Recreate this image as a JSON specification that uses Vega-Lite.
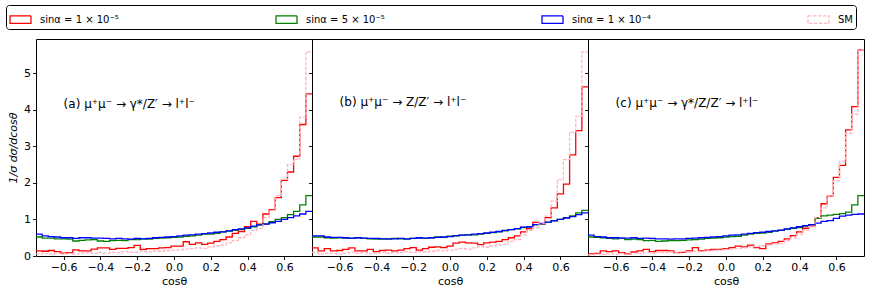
{
  "$schema": "https://vega.github.io/schema/vega-lite/v6.json",
  "autosize": {"type": "pad"},
  "padding": {"left": 5, "top": 4, "right": 0, "bottom": 0},
  "background": "white",
  "datasets": {
    "h": [
      {"p":"a","x":-0.75,"r":0.14,"g":0.52,"b":0.6,"sm":0.06},
      {"p":"a","x":-0.7167,"r":0.13,"g":0.49,"b":0.55,"sm":0.08},
      {"p":"a","x":-0.6833,"r":0.15,"g":0.49,"b":0.53,"sm":0.05},
      {"p":"a","x":-0.65,"r":0.12,"g":0.47,"b":0.52,"sm":0.07},
      {"p":"a","x":-0.6167,"r":0.08,"g":0.47,"b":0.5,"sm":0.06},
      {"p":"a","x":-0.5833,"r":0.09,"g":0.46,"b":0.5,"sm":0.07},
      {"p":"a","x":-0.55,"r":0.17,"g":0.41,"b":0.48,"sm":0.05},
      {"p":"a","x":-0.5167,"r":0.14,"g":0.43,"b":0.5,"sm":0.08},
      {"p":"a","x":-0.4833,"r":0.14,"g":0.44,"b":0.5,"sm":0.09},
      {"p":"a","x":-0.45,"r":0.19,"g":0.45,"b":0.49,"sm":0.07},
      {"p":"a","x":-0.4167,"r":0.22,"g":0.41,"b":0.49,"sm":0.1},
      {"p":"a","x":-0.3833,"r":0.22,"g":0.4,"b":0.48,"sm":0.08},
      {"p":"a","x":-0.35,"r":0.18,"g":0.42,"b":0.47,"sm":0.1},
      {"p":"a","x":-0.3167,"r":0.21,"g":0.43,"b":0.48,"sm":0.09},
      {"p":"a","x":-0.2833,"r":0.21,"g":0.42,"b":0.47,"sm":0.12},
      {"p":"a","x":-0.25,"r":0.23,"g":0.45,"b":0.46,"sm":0.1},
      {"p":"a","x":-0.2167,"r":0.29,"g":0.45,"b":0.48,"sm":0.11},
      {"p":"a","x":-0.1833,"r":0.18,"g":0.47,"b":0.47,"sm":0.13},
      {"p":"a","x":-0.15,"r":0.2,"g":0.46,"b":0.48,"sm":0.12},
      {"p":"a","x":-0.1167,"r":0.2,"g":0.48,"b":0.5,"sm":0.14},
      {"p":"a","x":-0.0833,"r":0.22,"g":0.49,"b":0.51,"sm":0.13},
      {"p":"a","x":-0.05,"r":0.23,"g":0.5,"b":0.52,"sm":0.15},
      {"p":"a","x":-0.0167,"r":0.27,"g":0.51,"b":0.53,"sm":0.16},
      {"p":"a","x":0.0167,"r":0.27,"g":0.52,"b":0.55,"sm":0.17},
      {"p":"a","x":0.05,"r":0.39,"g":0.54,"b":0.57,"sm":0.19},
      {"p":"a","x":0.0833,"r":0.32,"g":0.55,"b":0.58,"sm":0.2},
      {"p":"a","x":0.1167,"r":0.36,"g":0.57,"b":0.6,"sm":0.22},
      {"p":"a","x":0.15,"r":0.32,"g":0.6,"b":0.61,"sm":0.21},
      {"p":"a","x":0.1833,"r":0.35,"g":0.6,"b":0.63,"sm":0.25},
      {"p":"a","x":0.2167,"r":0.4,"g":0.62,"b":0.65,"sm":0.28},
      {"p":"a","x":0.25,"r":0.45,"g":0.66,"b":0.66,"sm":0.3},
      {"p":"a","x":0.2833,"r":0.52,"g":0.68,"b":0.69,"sm":0.36},
      {"p":"a","x":0.3167,"r":0.62,"g":0.7,"b":0.72,"sm":0.42},
      {"p":"a","x":0.35,"r":0.67,"g":0.73,"b":0.74,"sm":0.5},
      {"p":"a","x":0.3833,"r":0.8,"g":0.76,"b":0.77,"sm":0.58},
      {"p":"a","x":0.4167,"r":0.95,"g":0.8,"b":0.82,"sm":0.7},
      {"p":"a","x":0.45,"r":0.87,"g":0.85,"b":0.85,"sm":0.75},
      {"p":"a","x":0.4833,"r":1.15,"g":0.88,"b":0.87,"sm":1.05},
      {"p":"a","x":0.5167,"r":1.27,"g":0.94,"b":0.91,"sm":1.25},
      {"p":"a","x":0.55,"r":1.6,"g":1.0,"b":0.95,"sm":1.65},
      {"p":"a","x":0.5833,"r":2.07,"g":1.05,"b":1.0,"sm":2.1},
      {"p":"a","x":0.6167,"r":2.3,"g":1.13,"b":1.05,"sm":2.5},
      {"p":"a","x":0.65,"r":2.73,"g":1.22,"b":1.1,"sm":2.65},
      {"p":"a","x":0.6833,"r":3.6,"g":1.4,"b":1.15,"sm":3.8},
      {"p":"a","x":0.7167,"r":4.44,"g":1.65,"b":1.22,"sm":5.59},
      {"p":"a","x":0.75,"r":4.44,"g":1.65,"b":1.22,"sm":5.59},

      {"p":"b","x":-0.75,"r":0.22,"g":0.52,"b":0.55,"sm":0.1},
      {"p":"b","x":-0.7167,"r":0.14,"g":0.52,"b":0.55,"sm":0.06},
      {"p":"b","x":-0.6833,"r":0.2,"g":0.5,"b":0.52,"sm":0.08},
      {"p":"b","x":-0.65,"r":0.14,"g":0.49,"b":0.51,"sm":0.07},
      {"p":"b","x":-0.6167,"r":0.15,"g":0.5,"b":0.51,"sm":0.05},
      {"p":"b","x":-0.5833,"r":0.18,"g":0.49,"b":0.5,"sm":0.08},
      {"p":"b","x":-0.55,"r":0.22,"g":0.48,"b":0.49,"sm":0.1},
      {"p":"b","x":-0.5167,"r":0.14,"g":0.5,"b":0.5,"sm":0.07},
      {"p":"b","x":-0.4833,"r":0.14,"g":0.48,"b":0.49,"sm":0.09},
      {"p":"b","x":-0.45,"r":0.18,"g":0.47,"b":0.48,"sm":0.06},
      {"p":"b","x":-0.4167,"r":0.12,"g":0.46,"b":0.48,"sm":0.08},
      {"p":"b","x":-0.3833,"r":0.15,"g":0.47,"b":0.47,"sm":0.1},
      {"p":"b","x":-0.35,"r":0.16,"g":0.46,"b":0.47,"sm":0.07},
      {"p":"b","x":-0.3167,"r":0.14,"g":0.48,"b":0.47,"sm":0.09},
      {"p":"b","x":-0.2833,"r":0.16,"g":0.47,"b":0.48,"sm":0.1},
      {"p":"b","x":-0.25,"r":0.2,"g":0.46,"b":0.47,"sm":0.12},
      {"p":"b","x":-0.2167,"r":0.23,"g":0.48,"b":0.48,"sm":0.1},
      {"p":"b","x":-0.1833,"r":0.16,"g":0.49,"b":0.5,"sm":0.12},
      {"p":"b","x":-0.15,"r":0.2,"g":0.48,"b":0.49,"sm":0.11},
      {"p":"b","x":-0.1167,"r":0.24,"g":0.5,"b":0.5,"sm":0.13},
      {"p":"b","x":-0.0833,"r":0.25,"g":0.52,"b":0.51,"sm":0.15},
      {"p":"b","x":-0.05,"r":0.23,"g":0.51,"b":0.52,"sm":0.14},
      {"p":"b","x":-0.0167,"r":0.27,"g":0.54,"b":0.53,"sm":0.16},
      {"p":"b","x":0.0167,"r":0.35,"g":0.55,"b":0.56,"sm":0.18},
      {"p":"b","x":0.05,"r":0.38,"g":0.57,"b":0.57,"sm":0.2},
      {"p":"b","x":0.0833,"r":0.36,"g":0.58,"b":0.58,"sm":0.19},
      {"p":"b","x":0.1167,"r":0.35,"g":0.58,"b":0.6,"sm":0.22},
      {"p":"b","x":0.15,"r":0.31,"g":0.6,"b":0.61,"sm":0.25},
      {"p":"b","x":0.1833,"r":0.36,"g":0.62,"b":0.63,"sm":0.24},
      {"p":"b","x":0.2167,"r":0.38,"g":0.64,"b":0.65,"sm":0.28},
      {"p":"b","x":0.25,"r":0.4,"g":0.66,"b":0.67,"sm":0.3},
      {"p":"b","x":0.2833,"r":0.45,"g":0.69,"b":0.7,"sm":0.32},
      {"p":"b","x":0.3167,"r":0.5,"g":0.72,"b":0.72,"sm":0.4},
      {"p":"b","x":0.35,"r":0.55,"g":0.74,"b":0.75,"sm":0.45},
      {"p":"b","x":0.3833,"r":0.66,"g":0.78,"b":0.79,"sm":0.58},
      {"p":"b","x":0.4167,"r":0.75,"g":0.8,"b":0.8,"sm":0.7},
      {"p":"b","x":0.45,"r":0.92,"g":0.86,"b":0.86,"sm":0.78},
      {"p":"b","x":0.4833,"r":0.88,"g":0.88,"b":0.89,"sm":0.9},
      {"p":"b","x":0.5167,"r":1.05,"g":0.92,"b":0.93,"sm":1.09},
      {"p":"b","x":0.55,"r":1.32,"g":0.97,"b":0.96,"sm":1.5},
      {"p":"b","x":0.5833,"r":1.7,"g":1.0,"b":1.0,"sm":2.09},
      {"p":"b","x":0.6167,"r":1.97,"g":1.05,"b":1.04,"sm":2.64},
      {"p":"b","x":0.65,"r":2.77,"g":1.1,"b":1.08,"sm":3.39},
      {"p":"b","x":0.6833,"r":3.43,"g":1.18,"b":1.13,"sm":3.82},
      {"p":"b","x":0.7167,"r":4.63,"g":1.25,"b":1.18,"sm":5.59},
      {"p":"b","x":0.75,"r":4.63,"g":1.25,"b":1.18,"sm":5.59},

      {"p":"c","x":-0.75,"r":0.06,"g":0.52,"b":0.57,"sm":0.03},
      {"p":"c","x":-0.7167,"r":0.07,"g":0.51,"b":0.53,"sm":0.05},
      {"p":"c","x":-0.6833,"r":0.14,"g":0.5,"b":0.52,"sm":0.04},
      {"p":"c","x":-0.65,"r":0.12,"g":0.48,"b":0.5,"sm":0.06},
      {"p":"c","x":-0.6167,"r":0.14,"g":0.47,"b":0.5,"sm":0.05},
      {"p":"c","x":-0.5833,"r":0.09,"g":0.49,"b":0.49,"sm":0.07},
      {"p":"c","x":-0.55,"r":0.06,"g":0.45,"b":0.49,"sm":0.05},
      {"p":"c","x":-0.5167,"r":0.11,"g":0.46,"b":0.5,"sm":0.08},
      {"p":"c","x":-0.4833,"r":0.14,"g":0.45,"b":0.48,"sm":0.07},
      {"p":"c","x":-0.45,"r":0.18,"g":0.42,"b":0.49,"sm":0.09},
      {"p":"c","x":-0.4167,"r":0.12,"g":0.43,"b":0.48,"sm":0.08},
      {"p":"c","x":-0.3833,"r":0.15,"g":0.4,"b":0.47,"sm":0.1},
      {"p":"c","x":-0.35,"r":0.15,"g":0.41,"b":0.47,"sm":0.09},
      {"p":"c","x":-0.3167,"r":0.14,"g":0.42,"b":0.46,"sm":0.11},
      {"p":"c","x":-0.2833,"r":0.09,"g":0.42,"b":0.47,"sm":0.1},
      {"p":"c","x":-0.25,"r":0.1,"g":0.43,"b":0.47,"sm":0.12},
      {"p":"c","x":-0.2167,"r":0.14,"g":0.44,"b":0.48,"sm":0.11},
      {"p":"c","x":-0.1833,"r":0.23,"g":0.45,"b":0.49,"sm":0.13},
      {"p":"c","x":-0.15,"r":0.14,"g":0.46,"b":0.5,"sm":0.12},
      {"p":"c","x":-0.1167,"r":0.16,"g":0.48,"b":0.51,"sm":0.14},
      {"p":"c","x":-0.0833,"r":0.18,"g":0.49,"b":0.52,"sm":0.15},
      {"p":"c","x":-0.05,"r":0.18,"g":0.5,"b":0.53,"sm":0.16},
      {"p":"c","x":-0.0167,"r":0.2,"g":0.52,"b":0.55,"sm":0.18},
      {"p":"c","x":0.0167,"r":0.23,"g":0.53,"b":0.57,"sm":0.19},
      {"p":"c","x":0.05,"r":0.27,"g":0.54,"b":0.58,"sm":0.21},
      {"p":"c","x":0.0833,"r":0.25,"g":0.57,"b":0.6,"sm":0.22},
      {"p":"c","x":0.1167,"r":0.3,"g":0.6,"b":0.62,"sm":0.25},
      {"p":"c","x":0.15,"r":0.23,"g":0.62,"b":0.64,"sm":0.26},
      {"p":"c","x":0.1833,"r":0.2,"g":0.63,"b":0.65,"sm":0.28},
      {"p":"c","x":0.2167,"r":0.33,"g":0.65,"b":0.67,"sm":0.3},
      {"p":"c","x":0.25,"r":0.36,"g":0.68,"b":0.69,"sm":0.33},
      {"p":"c","x":0.2833,"r":0.4,"g":0.7,"b":0.71,"sm":0.34},
      {"p":"c","x":0.3167,"r":0.47,"g":0.73,"b":0.74,"sm":0.42},
      {"p":"c","x":0.35,"r":0.56,"g":0.76,"b":0.77,"sm":0.5},
      {"p":"c","x":0.3833,"r":0.66,"g":0.78,"b":0.8,"sm":0.6},
      {"p":"c","x":0.4167,"r":0.76,"g":0.82,"b":0.83,"sm":0.7},
      {"p":"c","x":0.45,"r":0.82,"g":0.86,"b":0.86,"sm":0.8},
      {"p":"c","x":0.4833,"r":1.05,"g":1.03,"b":0.9,"sm":1.05},
      {"p":"c","x":0.5167,"r":1.43,"g":1.1,"b":0.95,"sm":1.32},
      {"p":"c","x":0.55,"r":1.64,"g":1.12,"b":0.97,"sm":1.64},
      {"p":"c","x":0.5833,"r":2.15,"g":1.14,"b":1.03,"sm":2.06},
      {"p":"c","x":0.6167,"r":2.48,"g":1.16,"b":1.09,"sm":2.59},
      {"p":"c","x":0.65,"r":3.45,"g":1.2,"b":1.12,"sm":3.36},
      {"p":"c","x":0.6833,"r":4.09,"g":1.4,"b":1.14,"sm":3.88},
      {"p":"c","x":0.7167,"r":5.64,"g":1.65,"b":1.15,"sm":5.64},
      {"p":"c","x":0.75,"r":5.64,"g":1.65,"b":1.15,"sm":5.64}
    ]
  },
  "hconcat": [
    {
      "width": 276, "height": 217,
      "layer": [
        {
          "data": {"name": "h"},
          "transform": [{"filter": "datum.p === 'a'"}, {"fold": ["r", "g", "b", "sm"], "as": ["s", "y"]}],
          "mark": {"type": "line", "interpolate": "step-after", "strokeWidth": 1.3},
          "encoding": {
            "x": {"field": "x", "type": "quantitative", "scale": {"domain": [-0.75, 0.75], "nice": false, "zero": false},
                  "axis": {"values": [-0.6, -0.4, -0.2, 0, 0.2, 0.4, 0.6], "format": ".1f", "labelExpr": "replace(datum.label, '-', '−')", "title": "cosθ"}},
            "y": {"field": "y", "type": "quantitative", "scale": {"domain": [0, 5.94], "nice": false},
                  "axis": {"values": [0, 1, 2, 3, 4, 5], "title": "1/σ dσ/dcosθ", "titlePadding": 5, "titleFontStyle": "italic"}},
            "color": {"field": "s", "type": "nominal", "scale": {"domain": ["r", "g", "b", "sm"], "range": ["#ff0000", "#008000", "#0000ff", "#ffb6c1"]},
                      "legend": {"orient": "none", "legendX": -30, "legendY": -34, "direction": "horizontal", "columns": 4, "columnPadding": 154, "title": null,
                                 "symbolType": "M-1,-0.35L1,-0.35L1,0.35L-1,0.35Z", "symbolSize": 441, "symbolStrokeWidth": 1.3, "symbolFillColor": "transparent",
                                 "labelFont": "DejaVu Sans", "labelFontSize": 10, "labelColor": "#000", "labelOffset": 8, "padding": 3,
                                 "strokeColor": "#000", "fillColor": "white", "cornerRadius": 3,
                                 "labelExpr": "datum.label === 'r' ? 'sinα = 1 × 10⁻⁵' : datum.label === 'g' ? 'sinα = 5 × 10⁻⁵' : datum.label === 'b' ? 'sinα = 1 × 10⁻⁴' : 'SM'"}},
            "strokeDash": {"field": "s", "type": "nominal", "scale": {"domain": ["r", "g", "b", "sm"], "range": [[1, 0], [1, 0], [1, 0], [3.5, 1.5]]},
                      "legend": {"orient": "none", "legendX": -30, "legendY": -34, "direction": "horizontal", "columns": 4, "columnPadding": 154, "title": null,
                                 "symbolType": "M-1,-0.35L1,-0.35L1,0.35L-1,0.35Z", "symbolSize": 441, "symbolStrokeWidth": 1.3, "symbolFillColor": "transparent",
                                 "labelFont": "DejaVu Sans", "labelFontSize": 10, "labelColor": "#000", "labelOffset": 8, "padding": 3,
                                 "strokeColor": "#000", "fillColor": "white", "cornerRadius": 3,
                                 "labelExpr": "datum.label === 'r' ? 'sinα = 1 × 10⁻⁵' : datum.label === 'g' ? 'sinα = 5 × 10⁻⁵' : datum.label === 'b' ? 'sinα = 1 × 10⁻⁴' : 'SM'"}}
          }
        },
        {
          "data": {"values": [{}]},
          "mark": {"type": "text", "align": "left", "baseline": "middle", "font": "DejaVu Sans", "fontSize": 12, "color": "#000"},
          "encoding": {
            "x": {"datum": -0.6, "type": "quantitative"},
            "y": {"datum": 4.17, "type": "quantitative"},
            "text": {"value": "(a) μ⁺μ⁻ → γ*/Z′ → l⁺l⁻"}
          }
        }
      ]
    },
    {
      "width": 276, "height": 217,
      "layer": [
        {
          "data": {"name": "h"},
          "transform": [{"filter": "datum.p === 'b'"}, {"fold": ["r", "g", "b", "sm"], "as": ["s", "y"]}],
          "mark": {"type": "line", "interpolate": "step-after", "strokeWidth": 1.3},
          "encoding": {
            "x": {"field": "x", "type": "quantitative", "scale": {"domain": [-0.75, 0.75], "nice": false, "zero": false},
                  "axis": {"values": [-0.6, -0.4, -0.2, 0, 0.2, 0.4, 0.6], "format": ".1f", "labelExpr": "replace(datum.label, '-', '−')", "title": "cosθ"}},
            "y": {"field": "y", "type": "quantitative", "scale": {"domain": [0, 5.94], "nice": false},
                  "axis": {"values": [0, 1, 2, 3, 4, 5], "labels": false, "title": null}},
            "color": {"field": "s", "type": "nominal", "scale": {"domain": ["r", "g", "b", "sm"], "range": ["#ff0000", "#008000", "#0000ff", "#ffb6c1"]}},
            "strokeDash": {"field": "s", "type": "nominal", "scale": {"domain": ["r", "g", "b", "sm"], "range": [[1, 0], [1, 0], [1, 0], [3.5, 1.5]]}}
          }
        },
        {
          "data": {"values": [{}]},
          "mark": {"type": "text", "align": "left", "baseline": "middle", "font": "DejaVu Sans", "fontSize": 12, "color": "#000"},
          "encoding": {
            "x": {"datum": -0.6, "type": "quantitative"},
            "y": {"datum": 4.22, "type": "quantitative"},
            "text": {"value": "(b) μ⁺μ⁻ → Z/Z′ → l⁺l⁻"}
          }
        }
      ]
    },
    {
      "width": 276, "height": 217,
      "layer": [
        {
          "data": {"name": "h"},
          "transform": [{"filter": "datum.p === 'c'"}, {"fold": ["r", "g", "b", "sm"], "as": ["s", "y"]}],
          "mark": {"type": "line", "interpolate": "step-after", "strokeWidth": 1.3},
          "encoding": {
            "x": {"field": "x", "type": "quantitative", "scale": {"domain": [-0.75, 0.75], "nice": false, "zero": false},
                  "axis": {"values": [-0.6, -0.4, -0.2, 0, 0.2, 0.4, 0.6], "format": ".1f", "labelExpr": "replace(datum.label, '-', '−')", "title": "cosθ"}},
            "y": {"field": "y", "type": "quantitative", "scale": {"domain": [0, 5.94], "nice": false},
                  "axis": {"values": [0, 1, 2, 3, 4, 5], "labels": false, "title": null}},
            "color": {"field": "s", "type": "nominal", "scale": {"domain": ["r", "g", "b", "sm"], "range": ["#ff0000", "#008000", "#0000ff", "#ffb6c1"]}},
            "strokeDash": {"field": "s", "type": "nominal", "scale": {"domain": ["r", "g", "b", "sm"], "range": [[1, 0], [1, 0], [1, 0], [3.5, 1.5]]}}
          }
        },
        {
          "data": {"values": [{}]},
          "mark": {"type": "text", "align": "left", "baseline": "middle", "font": "DejaVu Sans", "fontSize": 12, "color": "#000"},
          "encoding": {
            "x": {"datum": -0.6, "type": "quantitative"},
            "y": {"datum": 4.18, "type": "quantitative"},
            "text": {"value": "(c) μ⁺μ⁻ → γ*/Z/Z′ → l⁺l⁻"}
          }
        }
      ]
    }
  ],
  "spacing": 0,
  "bounds": "flush",
  "resolve": {
    "scale": {"x": "independent", "y": "independent", "color": "shared", "strokeDash": "shared"},
    "axis": {"x": "independent", "y": "independent"}
  },
  "config": {
    "view": {"stroke": "#000", "strokeWidth": 1},
    "font": "DejaVu Sans",
    "axis": {
      "grid": false, "domain": false, "tickColor": "#000", "tickSize": 3.5, "tickWidth": 0.9,
      "labelFont": "DejaVu Sans", "labelFontSize": 11, "labelColor": "#000", "labelPadding": 2,
      "titleFont": "DejaVu Sans", "titleFontSize": 11, "titleFontWeight": "normal", "titleColor": "#000", "titlePadding": 3
    }
  }
}
